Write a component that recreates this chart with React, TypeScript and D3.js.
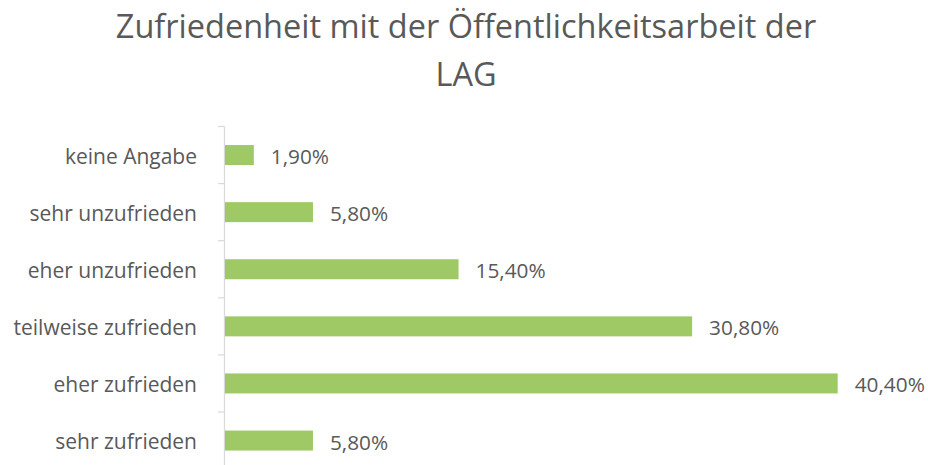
import React from "react";
import * as d3 from "d3";

const categories = [
  "keine Angabe",
  "sehr unzufrieden",
  "eher unzufrieden",
  "teilweise zufrieden",
  "eher zufrieden",
  "sehr zufrieden",
];
const values = [1.9, 5.8, 15.4, 30.8, 40.4, 5.8];
const valueLabels = ["1,90%", "5,80%", "15,40%", "30,80%", "40,40%", "5,80%"];
const titleLines = ["Zufriedenheit mit der Öffentlichkeitsarbeit der", "LAG"];

const W = 928;
const H = 465;
const FONT = "'Open Sans', sans-serif";
const TEXT = "#595959";
const AXIS = "#D9D9D9";
const BAR = "#9FC965";

export default function App() {
  const axisX = 224.5;
  const y = d3
    .scaleBand<string>()
    .domain(categories)
    .range([126.5, 126.5 + 57.1 * 6])
    .paddingInner(0.65)
    .paddingOuter(0.325);
  const x = d3.scaleLinear().domain([0, 45]).range([225, 225 + 45 * 15.166]);
  const step = y.step();
  const boundaries = d3.range(categories.length + 1).map((i) => 126.5 + i * step);

  return (
    <svg
      width={W}
      height={H}
      style={{ position: "absolute", left: 0, top: 0, background: "#fff" }}
    >
      <rect x={0} y={0} width={W} height={H} fill="#fff" />
      <g fontFamily={FONT} fill={TEXT} textAnchor="middle">
        {titleLines.map((t, i) => (
          <text key={i} x={466} y={37.5 + i * 48} fontSize={32.5}>
            {t}
          </text>
        ))}
      </g>
      <line x1={axisX} x2={axisX} y1={126.5} y2={boundaries[boundaries.length - 1]} stroke={AXIS} strokeWidth={1.2} />
      {boundaries.map((b, i) => (
        <line key={i} x1={218} x2={axisX} y1={b} y2={b} stroke={AXIS} strokeWidth={1.2} />
      ))}
      {categories.map((c, i) => {
        const yy = y(c)!;
        const cy = yy + y.bandwidth() / 2;
        return (
          <g key={c}>
            <rect x={x(0)} y={yy} width={x(values[i]) - x(0)} height={y.bandwidth()} fill={BAR} />
            <text x={197} y={cy + 8.5} textAnchor="end" fontFamily={FONT} fontSize={21} fill={TEXT}>
              {c}
            </text>
            <text x={x(values[i]) + 17} y={cy + 9} fontFamily={FONT} fontSize={20.8} fill={TEXT}>
              {valueLabels[i]}
            </text>
          </g>
        );
      })}
    </svg>
  );
}
